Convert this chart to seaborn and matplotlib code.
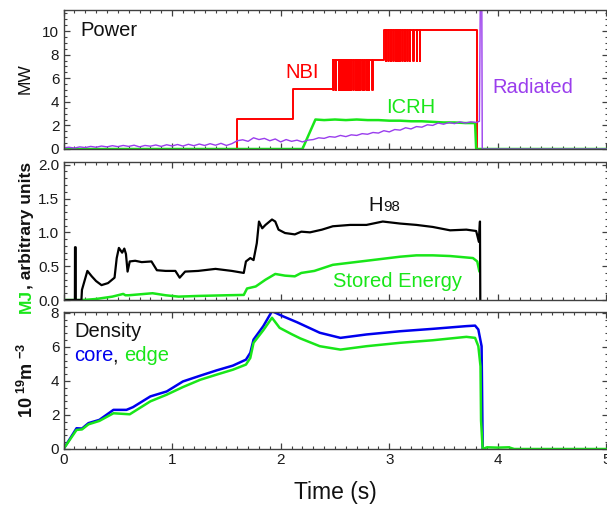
import numpy as np
import matplotlib
matplotlib.use("Agg")
import matplotlib.pyplot as plt
from matplotlib.ticker import MultipleLocator, FormatStrFormatter
import seaborn as sns

# ---------------- Power panel (MW) ----------------
nbi_on = [1.6, 2.11, 2.48, 2.955]
nbi_level = [2.55, 5.05, 7.55, 10.05]
nbi_off = 3.81
# short dips of the NBI power while a source is being modulated
nbi_spikes_a = [2.485, 2.509, 2.534, 2.552, 2.571, 2.592, 2.611, 2.629, 2.648,
                2.669, 2.691, 2.709, 2.730, 2.752, 2.770, 2.792, 2.813, 2.844]
nbi_dip_a = 5.0
nbi_spikes_b = [2.970, 2.991, 3.013, 3.037, 3.059, 3.077, 3.099, 3.120, 3.145,
                3.166, 3.191, 3.222, 3.252, 3.283]
nbi_dip_b = 7.45

icrh_t = [0.0, 2.2, 2.32, 2.4, 2.5, 2.6, 2.7, 2.8, 2.9, 3.0, 3.1, 3.2, 3.3,
          3.4, 3.5, 3.6, 3.7, 3.79, 3.80, 5.0]
icrh_v = [0.0, 0.0, 2.5, 2.45, 2.5, 2.45, 2.5, 2.45, 2.45, 2.4, 2.4, 2.35, 2.35,
          2.3, 2.25, 2.25, 2.2, 2.2, 0.0, 0.0]

rad_t_early = np.linspace(0.0, 1.55, 32)
rad_v_early = [0.10, 0.15, 0.08, 0.18, 0.12, 0.22, 0.15, 0.25, 0.18, 0.28,
               0.20, 0.30, 0.22, 0.32, 0.18, 0.30, 0.24, 0.34, 0.22, 0.36,
               0.26, 0.38, 0.25, 0.40, 0.28, 0.42, 0.30, 0.45, 0.32, 0.48,
               0.30, 0.45]
rad_t_late = np.linspace(1.6, 3.8, 45)
rad_v_late = [0.70, 0.78, 0.65, 0.95, 0.80, 0.90, 0.70, 0.85, 0.60, 0.80,
              0.65, 0.75, 0.60, 0.75, 0.80, 0.95, 0.90, 1.05, 1.00, 1.15,
              1.05, 1.20, 1.15, 1.30, 1.25, 1.40, 1.35, 1.55, 1.45, 1.65,
              1.60, 1.80, 1.70, 1.90, 1.85, 2.05, 2.00, 2.20, 2.10, 2.25,
              2.15, 2.30, 2.20, 2.30, 2.25]
rad_t_end = [3.83, 3.838, 3.852, 3.856, 5.0]
rad_v_end = [2.35, 12.5, 12.5, 0.0, 0.0]

# ---------------- H98 / stored energy panel ----------------
h98_t = [0.0, 0.105, 0.106, 0.112, 0.113, 0.165, 0.17, 0.22, 0.26, 0.30,
         0.35, 0.41, 0.47, 0.49, 0.51, 0.54, 0.56, 0.575, 0.59, 0.61,
         0.66, 0.72, 0.81, 0.86, 0.94, 1.03, 1.07, 1.12, 1.24, 1.40,
         1.55, 1.66, 1.68, 1.72, 1.75, 1.78, 1.80, 1.83, 1.86, 1.92,
         1.95, 1.98, 2.04, 2.13, 2.19, 2.27, 2.38, 2.48, 2.64, 2.79,
         2.94, 3.10, 3.25, 3.40, 3.56, 3.71, 3.80, 3.825, 3.835, 3.838]
h98_v = [0.0, 0.0, 0.78, 0.78, 0.0, 0.0, 0.15, 0.43, 0.35, 0.28,
         0.22, 0.25, 0.33, 0.62, 0.77, 0.70, 0.76, 0.68, 0.42, 0.57,
         0.58, 0.56, 0.57, 0.44, 0.43, 0.43, 0.33, 0.42, 0.43, 0.46,
         0.43, 0.40, 0.57, 0.62, 0.59, 0.84, 1.16, 1.06, 1.11, 1.19,
         1.16, 1.04, 0.99, 0.97, 1.01, 1.00, 1.04, 1.09, 1.11, 1.11,
         1.16, 1.13, 1.11, 1.08, 1.03, 1.04, 1.02, 0.86, 1.16, 0.0]

wdia_t = [0.0, 0.18, 0.3, 0.45, 0.55, 0.57, 0.6, 0.82, 0.94, 1.06,
          1.24, 1.50, 1.66, 1.69, 1.77, 1.86, 1.95, 2.04, 2.13, 2.19,
          2.31, 2.48, 2.79, 3.10, 3.25, 3.40, 3.56, 3.77, 3.81, 3.83]
wdia_v = [0.0, 0.0, 0.015, 0.05, 0.09, 0.07, 0.07, 0.10, 0.07, 0.05,
          0.06, 0.07, 0.075, 0.17, 0.20, 0.30, 0.385, 0.36, 0.35, 0.40,
          0.43, 0.52, 0.58, 0.64, 0.66, 0.66, 0.65, 0.62, 0.57, 0.42]

# ---------------- Density panel (1e19 m^-3) ----------------
core_t = [0.0, 0.12, 0.17, 0.23, 0.33, 0.46, 0.58, 0.64, 0.80, 0.95,
          1.10, 1.26, 1.41, 1.56, 1.68, 1.72, 1.75, 1.84, 1.92, 2.02,
          2.15, 2.36, 2.55, 2.79, 3.10, 3.40, 3.71, 3.79, 3.82, 3.85, 3.86]
core_v = [0.0, 1.22, 1.20, 1.52, 1.71, 2.30, 2.30, 2.46, 3.09, 3.38,
          3.97, 4.31, 4.62, 4.90, 5.25, 5.65, 6.43, 7.22, 8.10, 7.80,
          7.45, 6.83, 6.53, 6.73, 6.92, 7.06, 7.22, 7.25, 7.02, 6.04, 0.0]

edge_t = [0.0, 0.12, 0.17, 0.23, 0.33, 0.46, 0.61, 0.80, 0.95, 1.10,
          1.26, 1.41, 1.56, 1.68, 1.72, 1.75, 1.84, 1.92, 1.99, 2.10,
          2.18, 2.36, 2.55, 2.79, 3.10, 3.40, 3.71, 3.79, 3.82, 3.84,
          3.845, 3.86, 3.90, 4.0, 4.1, 4.15, 5.0]
edge_v = [0.0, 1.12, 1.15, 1.45, 1.65, 2.10, 2.04, 2.80, 3.19, 3.64,
          4.07, 4.37, 4.66, 4.96, 5.35, 6.24, 6.98, 7.71, 7.12, 6.75,
          6.50, 6.04, 5.84, 6.04, 6.24, 6.39, 6.59, 6.53, 6.04, 4.86,
          1.67, 0.0, 0.10, 0.08, 0.10, 0.0, 0.0]

RED = "#ff0000"
GREEN = "#19e619"
PURPLE = "#9a3ded"
BLUE = "#0000ee"
SPINE = "#404040"


def nbi_trace():
    """Step trace of NBI power with the modulation dips."""
    ev = [(0.0, 0.0)] + list(zip(nbi_on, nbi_level))
    for t in nbi_spikes_a:
        ev += [(t, nbi_dip_a), (t + 0.002, nbi_level[2])]
    for t in nbi_spikes_b:
        ev += [(t, nbi_dip_b), (t + 0.002, nbi_level[3])]
    ev += [(nbi_off, 0.0), (5.0, 0.0)]
    ev.sort(key=lambda p: p[0])
    return [p[0] for p in ev], [p[1] for p in ev]


def style_axis(ax, ymax, ymajor, yminor, fmt):
    ax.set_xlim(0, 5.014)
    ax.set_ylim(0, ymax)
    ax.xaxis.set_major_locator(MultipleLocator(1))
    ax.xaxis.set_minor_locator(MultipleLocator(0.1))
    ax.yaxis.set_major_locator(MultipleLocator(ymajor))
    ax.yaxis.set_minor_locator(MultipleLocator(yminor))
    ax.yaxis.set_major_formatter(FormatStrFormatter(fmt))
    ax.tick_params(which="both", direction="in", top=True, right=True,
                   colors=SPINE, labelcolor="#1a1a1a", labelsize=11)
    ax.tick_params(which="major", length=4.5, width=0.9, pad=3)
    ax.tick_params(which="minor", length=2.2, width=0.8)
    for s in ax.spines.values():
        s.set_color(SPINE)
        s.set_linewidth(1.0)
    ax.set_xlabel("")
    ax.set_ylabel("")


sns.set_theme(style="ticks")
plt.rcParams["font.family"] = ["Liberation Sans", "DejaVu Sans"]
plt.rcParams["mathtext.fontset"] = "custom"
plt.rcParams["mathtext.rm"] = "Liberation Sans"
plt.rcParams["mathtext.bf"] = "Liberation Sans:bold"

fig = plt.figure(figsize=(6.07, 5.07), dpi=100)
left, width = 63.5 / 607, 544.5 / 607
ax1 = fig.add_axes([left, (507 - 149) / 507, width, 139 / 507])
ax2 = fig.add_axes([left, (507 - 300) / 507, width, 138 / 507])
ax3 = fig.add_axes([left, (507 - 449) / 507, width, 137 / 507])

# power
nt, nv = nbi_trace()
sns.lineplot(x=nt, y=nv, ax=ax1, color=RED, lw=1.4, estimator=None,
             sort=False, drawstyle="steps-post", legend=False)
sns.lineplot(x=icrh_t, y=icrh_v, ax=ax1, color=GREEN, lw=1.8, estimator=None,
             sort=False, legend=False)
rad_t = list(rad_t_early) + list(rad_t_late) + rad_t_end
rad_v = rad_v_early + rad_v_late + rad_v_end
sns.lineplot(x=rad_t, y=rad_v, ax=ax1, color=PURPLE, lw=1.0, estimator=None,
             sort=False, legend=False)
style_axis(ax1, 11.78, 2, 0.5, "%d")
ax1.tick_params(labelbottom=False)
ax1.text(0.152, 9.58, "Power", fontsize=14.5, color="#111111")
ax1.text(2.04, 5.99, "NBI", fontsize=14.5, color=RED)
ax1.text(2.97, 3.02, "ICRH", fontsize=14.5, color=GREEN)
ax1.text(3.945, 4.77, "Radiated", fontsize=14.5, color=PURPLE)

# H98 and stored energy
sns.lineplot(x=wdia_t, y=wdia_v, ax=ax2, color=GREEN, lw=1.8, estimator=None,
             sort=False, legend=False)
sns.lineplot(x=h98_t, y=h98_v, ax=ax2, color="black", lw=1.6, estimator=None,
             sort=False, legend=False)
style_axis(ax2, 2.04, 0.5, 0.1, "%.1f")
ax2.tick_params(labelbottom=False)
ax2.text(2.807, 1.31, "H", fontsize=14.5, color="#111111")
ax2.text(2.945, 1.31, "98", fontsize=10.8, color="#111111")
ax2.text(2.48, 0.197, "Stored Energy", fontsize=14.5, color=GREEN)

# density
sns.lineplot(x=core_t, y=core_v, ax=ax3, color=BLUE, lw=1.8, estimator=None,
             sort=False, legend=False)
sns.lineplot(x=edge_t, y=edge_v, ax=ax3, color=GREEN, lw=1.8, estimator=None,
             sort=False, legend=False)
style_axis(ax3, 8.05, 2, 0.4, "%d")
ax3.text(0.097, 6.59, "Density", fontsize=14.5, color="#111111")
c = ax3.text(0.097, 5.15, "core", fontsize=14.5, color=BLUE)
cm = ax3.annotate(", ", xy=(1, 0), xycoords=c, va="bottom", fontsize=14.5,
                  color="#111111")
ax3.annotate("edge", xy=(1, 0), xycoords=cm, va="bottom", fontsize=14.5,
             color=GREEN)
ax3.set_xlabel("Time (s)", fontsize=16.5, labelpad=10, color="#111111")

# y labels
fig.text(25.5 / 607, 1 - 78.5 / 507, "MW", rotation=90, ha="center",
         va="center", fontsize=12.5, color="#111111")
mj = fig.text(26.5 / 607, 1 - 313 / 507, "MJ", rotation=90, ha="center",
              va="bottom", fontsize=12.5, fontweight="bold", color=GREEN)
ax2.annotate(", arbitrary units", xy=(0.5, 1), xycoords=mj, ha="center",
             va="bottom", rotation=90, fontsize=12.5, fontweight="bold",
             color="#111111")
fig.text(27 / 607, 1 - 380.5 / 507,
         r"$\mathbf{10}^{\ \mathbf{19}}\mathbf{m}^{\ \mathbf{-3}}$",
         rotation=90, ha="center", va="center", fontsize=13, color="#111111")

fig.savefig("out.png", dpi=100)
